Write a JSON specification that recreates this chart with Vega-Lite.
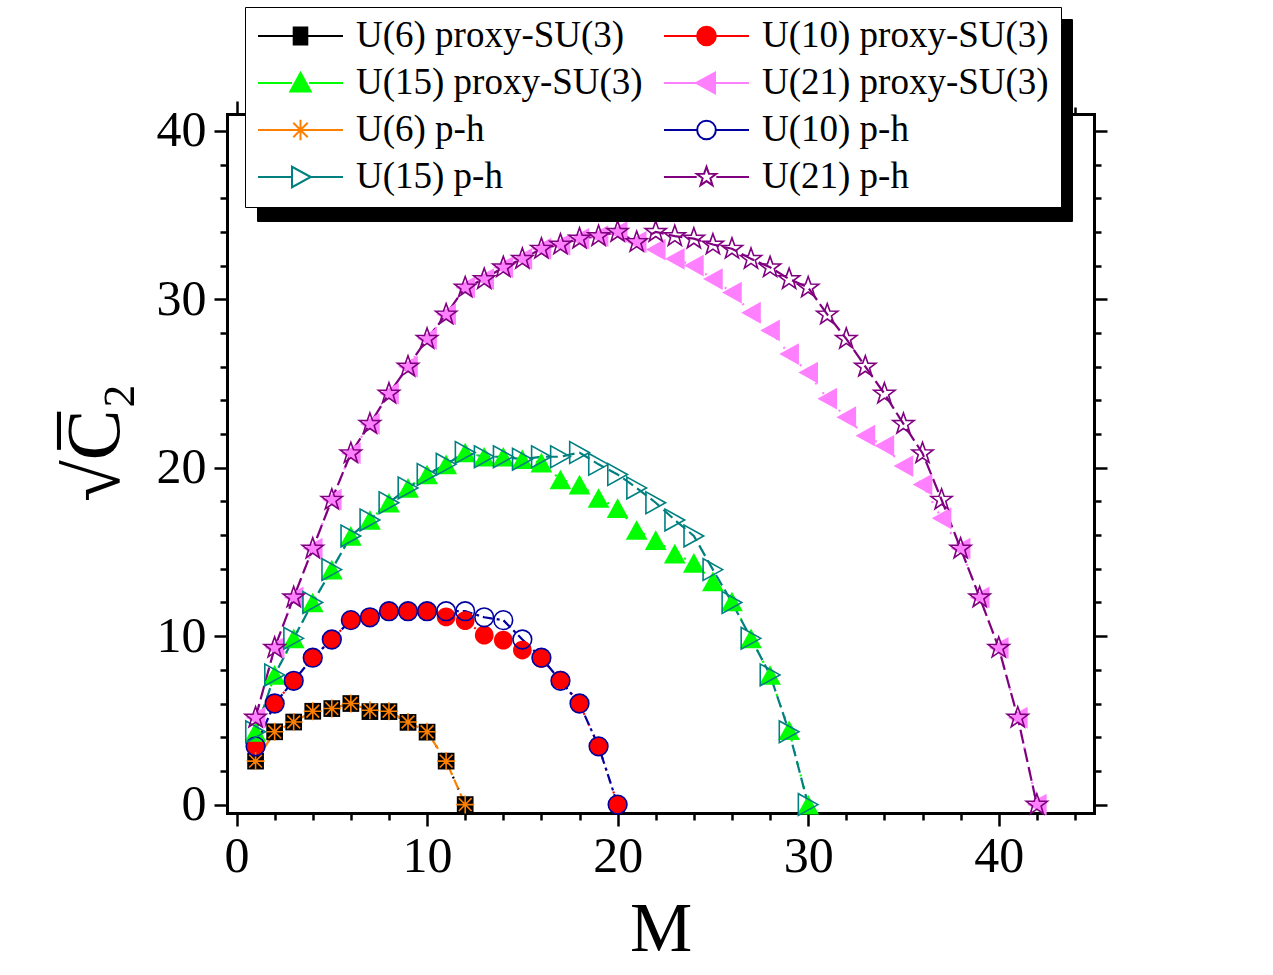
{
  "$schema": "https://vega.github.io/schema/vega-lite/v6.json",
  "width": 867,
  "height": 699,
  "autosize": "none",
  "padding": {"left": 227, "top": 114, "right": 179, "bottom": 162},
  "background": "white",
  "data": {
    "values": [
      {"s": "U(6) proxy-SU(3)", "M": 1, "v": 2.58}, {"s": "U(6) proxy-SU(3)", "M": 2, "v": 4.32}, {"s": "U(6) proxy-SU(3)", "M": 3, "v": 4.9}, {"s": "U(6) proxy-SU(3)", "M": 4, "v": 5.54}, {"s": "U(6) proxy-SU(3)", "M": 5, "v": 5.7}, {"s": "U(6) proxy-SU(3)", "M": 6, "v": 6.0}, {"s": "U(6) proxy-SU(3)", "M": 7, "v": 5.52}, {"s": "U(6) proxy-SU(3)", "M": 8, "v": 5.52}, {"s": "U(6) proxy-SU(3)", "M": 9, "v": 4.88}, {"s": "U(6) proxy-SU(3)", "M": 10, "v": 4.3}, {"s": "U(6) proxy-SU(3)", "M": 11, "v": 2.58}, {"s": "U(6) proxy-SU(3)", "M": 12, "v": 0},

      {"s": "U(10) proxy-SU(3)", "M": 1, "v": 3.46}, {"s": "U(10) proxy-SU(3)", "M": 2, "v": 6.0}, {"s": "U(10) proxy-SU(3)", "M": 3, "v": 7.35}, {"s": "U(10) proxy-SU(3)", "M": 4, "v": 8.72}, {"s": "U(10) proxy-SU(3)", "M": 5, "v": 9.8}, {"s": "U(10) proxy-SU(3)", "M": 6, "v": 10.95}, {"s": "U(10) proxy-SU(3)", "M": 7, "v": 11.12}, {"s": "U(10) proxy-SU(3)", "M": 8, "v": 11.48}, {"s": "U(10) proxy-SU(3)", "M": 9, "v": 11.48}, {"s": "U(10) proxy-SU(3)", "M": 10, "v": 11.48}, {"s": "U(10) proxy-SU(3)", "M": 11, "v": 11.14}, {"s": "U(10) proxy-SU(3)", "M": 12, "v": 10.92}, {"s": "U(10) proxy-SU(3)", "M": 13, "v": 10.06}, {"s": "U(10) proxy-SU(3)", "M": 14, "v": 9.76}, {"s": "U(10) proxy-SU(3)", "M": 15, "v": 9.17}, {"s": "U(10) proxy-SU(3)", "M": 16, "v": 8.68}, {"s": "U(10) proxy-SU(3)", "M": 17, "v": 7.39}, {"s": "U(10) proxy-SU(3)", "M": 18, "v": 6.0}, {"s": "U(10) proxy-SU(3)", "M": 19, "v": 3.47}, {"s": "U(10) proxy-SU(3)", "M": 20, "v": 0},

      {"s": "U(15) proxy-SU(3)", "M": 1, "v": 4.32}, {"s": "U(15) proxy-SU(3)", "M": 2, "v": 7.7}, {"s": "U(15) proxy-SU(3)", "M": 3, "v": 9.87}, {"s": "U(15) proxy-SU(3)", "M": 4, "v": 12.0}, {"s": "U(15) proxy-SU(3)", "M": 5, "v": 13.95}, {"s": "U(15) proxy-SU(3)", "M": 6, "v": 15.95}, {"s": "U(15) proxy-SU(3)", "M": 7, "v": 16.9}, {"s": "U(15) proxy-SU(3)", "M": 8, "v": 17.92}, {"s": "U(15) proxy-SU(3)", "M": 9, "v": 18.8}, {"s": "U(15) proxy-SU(3)", "M": 10, "v": 19.6}, {"s": "U(15) proxy-SU(3)", "M": 11, "v": 20.2}, {"s": "U(15) proxy-SU(3)", "M": 12, "v": 20.9}, {"s": "U(15) proxy-SU(3)", "M": 13, "v": 20.65}, {"s": "U(15) proxy-SU(3)", "M": 14, "v": 20.65}, {"s": "U(15) proxy-SU(3)", "M": 15, "v": 20.5}, {"s": "U(15) proxy-SU(3)", "M": 16, "v": 20.3}, {"s": "U(15) proxy-SU(3)", "M": 17, "v": 19.3}, {"s": "U(15) proxy-SU(3)", "M": 18, "v": 19.0}, {"s": "U(15) proxy-SU(3)", "M": 19, "v": 18.2}, {"s": "U(15) proxy-SU(3)", "M": 20, "v": 17.6}, {"s": "U(15) proxy-SU(3)", "M": 21, "v": 16.3}, {"s": "U(15) proxy-SU(3)", "M": 22, "v": 15.7}, {"s": "U(15) proxy-SU(3)", "M": 23, "v": 14.9}, {"s": "U(15) proxy-SU(3)", "M": 24, "v": 14.35}, {"s": "U(15) proxy-SU(3)", "M": 25, "v": 13.25}, {"s": "U(15) proxy-SU(3)", "M": 26, "v": 12.06}, {"s": "U(15) proxy-SU(3)", "M": 27, "v": 9.87}, {"s": "U(15) proxy-SU(3)", "M": 28, "v": 7.69}, {"s": "U(15) proxy-SU(3)", "M": 29, "v": 4.41}, {"s": "U(15) proxy-SU(3)", "M": 30, "v": 0},

      {"s": "U(21) proxy-SU(3)", "M": 1, "v": 5.16}, {"s": "U(21) proxy-SU(3)", "M": 2, "v": 9.31}, {"s": "U(21) proxy-SU(3)", "M": 3, "v": 12.3}, {"s": "U(21) proxy-SU(3)", "M": 4, "v": 15.2}, {"s": "U(21) proxy-SU(3)", "M": 5, "v": 18.1}, {"s": "U(21) proxy-SU(3)", "M": 6, "v": 20.86}, {"s": "U(21) proxy-SU(3)", "M": 7, "v": 22.6}, {"s": "U(21) proxy-SU(3)", "M": 8, "v": 24.4}, {"s": "U(21) proxy-SU(3)", "M": 9, "v": 26.0}, {"s": "U(21) proxy-SU(3)", "M": 10, "v": 27.65}, {"s": "U(21) proxy-SU(3)", "M": 11, "v": 29.1}, {"s": "U(21) proxy-SU(3)", "M": 12, "v": 30.7}, {"s": "U(21) proxy-SU(3)", "M": 13, "v": 31.2}, {"s": "U(21) proxy-SU(3)", "M": 14, "v": 31.9}, {"s": "U(21) proxy-SU(3)", "M": 15, "v": 32.4}, {"s": "U(21) proxy-SU(3)", "M": 16, "v": 33.0}, {"s": "U(21) proxy-SU(3)", "M": 17, "v": 33.25}, {"s": "U(21) proxy-SU(3)", "M": 18, "v": 33.6}, {"s": "U(21) proxy-SU(3)", "M": 19, "v": 33.75}, {"s": "U(21) proxy-SU(3)", "M": 20, "v": 34.0}, {"s": "U(21) proxy-SU(3)", "M": 21, "v": 33.4}, {"s": "U(21) proxy-SU(3)", "M": 22, "v": 32.95}, {"s": "U(21) proxy-SU(3)", "M": 23, "v": 32.4}, {"s": "U(21) proxy-SU(3)", "M": 24, "v": 32.0}, {"s": "U(21) proxy-SU(3)", "M": 25, "v": 31.2}, {"s": "U(21) proxy-SU(3)", "M": 26, "v": 30.4}, {"s": "U(21) proxy-SU(3)", "M": 27, "v": 29.2}, {"s": "U(21) proxy-SU(3)", "M": 28, "v": 28.15}, {"s": "U(21) proxy-SU(3)", "M": 29, "v": 26.75}, {"s": "U(21) proxy-SU(3)", "M": 30, "v": 25.65}, {"s": "U(21) proxy-SU(3)", "M": 31, "v": 24.1}, {"s": "U(21) proxy-SU(3)", "M": 32, "v": 23.0}, {"s": "U(21) proxy-SU(3)", "M": 33, "v": 21.9}, {"s": "U(21) proxy-SU(3)", "M": 34, "v": 21.3}, {"s": "U(21) proxy-SU(3)", "M": 35, "v": 20.1}, {"s": "U(21) proxy-SU(3)", "M": 36, "v": 19.0}, {"s": "U(21) proxy-SU(3)", "M": 37, "v": 17.0}, {"s": "U(21) proxy-SU(3)", "M": 38, "v": 15.2}, {"s": "U(21) proxy-SU(3)", "M": 39, "v": 12.3}, {"s": "U(21) proxy-SU(3)", "M": 40, "v": 9.31}, {"s": "U(21) proxy-SU(3)", "M": 41, "v": 5.16}, {"s": "U(21) proxy-SU(3)", "M": 42, "v": 0},

      {"s": "U(6) p-h", "M": 1, "v": 2.58}, {"s": "U(6) p-h", "M": 2, "v": 4.32}, {"s": "U(6) p-h", "M": 3, "v": 4.9}, {"s": "U(6) p-h", "M": 4, "v": 5.54}, {"s": "U(6) p-h", "M": 5, "v": 5.7}, {"s": "U(6) p-h", "M": 6, "v": 6.0}, {"s": "U(6) p-h", "M": 7, "v": 5.6}, {"s": "U(6) p-h", "M": 8, "v": 5.54}, {"s": "U(6) p-h", "M": 9, "v": 4.9}, {"s": "U(6) p-h", "M": 10, "v": 4.32}, {"s": "U(6) p-h", "M": 11, "v": 2.58}, {"s": "U(6) p-h", "M": 12, "v": 0},

      {"s": "U(10) p-h", "M": 1, "v": 3.46}, {"s": "U(10) p-h", "M": 2, "v": 6.0}, {"s": "U(10) p-h", "M": 3, "v": 7.35}, {"s": "U(10) p-h", "M": 4, "v": 8.72}, {"s": "U(10) p-h", "M": 5, "v": 9.8}, {"s": "U(10) p-h", "M": 6, "v": 10.95}, {"s": "U(10) p-h", "M": 7, "v": 11.12}, {"s": "U(10) p-h", "M": 8, "v": 11.48}, {"s": "U(10) p-h", "M": 9, "v": 11.48}, {"s": "U(10) p-h", "M": 10, "v": 11.48}, {"s": "U(10) p-h", "M": 11, "v": 11.48}, {"s": "U(10) p-h", "M": 12, "v": 11.48}, {"s": "U(10) p-h", "M": 13, "v": 11.12}, {"s": "U(10) p-h", "M": 14, "v": 10.95}, {"s": "U(10) p-h", "M": 15, "v": 9.8}, {"s": "U(10) p-h", "M": 16, "v": 8.72}, {"s": "U(10) p-h", "M": 17, "v": 7.35}, {"s": "U(10) p-h", "M": 18, "v": 6.0}, {"s": "U(10) p-h", "M": 19, "v": 3.46}, {"s": "U(10) p-h", "M": 20, "v": 0},

      {"s": "U(15) p-h", "M": 1, "v": 4.32}, {"s": "U(15) p-h", "M": 2, "v": 7.7}, {"s": "U(15) p-h", "M": 3, "v": 9.87}, {"s": "U(15) p-h", "M": 4, "v": 12.0}, {"s": "U(15) p-h", "M": 5, "v": 13.95}, {"s": "U(15) p-h", "M": 6, "v": 15.95}, {"s": "U(15) p-h", "M": 7, "v": 16.9}, {"s": "U(15) p-h", "M": 8, "v": 17.92}, {"s": "U(15) p-h", "M": 9, "v": 18.8}, {"s": "U(15) p-h", "M": 10, "v": 19.6}, {"s": "U(15) p-h", "M": 11, "v": 20.2}, {"s": "U(15) p-h", "M": 12, "v": 20.9}, {"s": "U(15) p-h", "M": 13, "v": 20.65}, {"s": "U(15) p-h", "M": 14, "v": 20.65}, {"s": "U(15) p-h", "M": 15, "v": 20.5}, {"s": "U(15) p-h", "M": 16, "v": 20.65}, {"s": "U(15) p-h", "M": 17, "v": 20.65}, {"s": "U(15) p-h", "M": 18, "v": 20.9}, {"s": "U(15) p-h", "M": 19, "v": 20.2}, {"s": "U(15) p-h", "M": 20, "v": 19.6}, {"s": "U(15) p-h", "M": 21, "v": 18.8}, {"s": "U(15) p-h", "M": 22, "v": 17.92}, {"s": "U(15) p-h", "M": 23, "v": 16.9}, {"s": "U(15) p-h", "M": 24, "v": 15.95}, {"s": "U(15) p-h", "M": 25, "v": 13.95}, {"s": "U(15) p-h", "M": 26, "v": 12.0}, {"s": "U(15) p-h", "M": 27, "v": 9.87}, {"s": "U(15) p-h", "M": 28, "v": 7.7}, {"s": "U(15) p-h", "M": 29, "v": 4.32}, {"s": "U(15) p-h", "M": 30, "v": 0},

      {"s": "U(21) p-h", "M": 1, "v": 5.16}, {"s": "U(21) p-h", "M": 2, "v": 9.31}, {"s": "U(21) p-h", "M": 3, "v": 12.3}, {"s": "U(21) p-h", "M": 4, "v": 15.2}, {"s": "U(21) p-h", "M": 5, "v": 18.1}, {"s": "U(21) p-h", "M": 6, "v": 20.86}, {"s": "U(21) p-h", "M": 7, "v": 22.6}, {"s": "U(21) p-h", "M": 8, "v": 24.4}, {"s": "U(21) p-h", "M": 9, "v": 26.0}, {"s": "U(21) p-h", "M": 10, "v": 27.65}, {"s": "U(21) p-h", "M": 11, "v": 29.1}, {"s": "U(21) p-h", "M": 12, "v": 30.7}, {"s": "U(21) p-h", "M": 13, "v": 31.2}, {"s": "U(21) p-h", "M": 14, "v": 31.9}, {"s": "U(21) p-h", "M": 15, "v": 32.4}, {"s": "U(21) p-h", "M": 16, "v": 33.0}, {"s": "U(21) p-h", "M": 17, "v": 33.25}, {"s": "U(21) p-h", "M": 18, "v": 33.6}, {"s": "U(21) p-h", "M": 19, "v": 33.75}, {"s": "U(21) p-h", "M": 20, "v": 34.0}, {"s": "U(21) p-h", "M": 21, "v": 33.4}, {"s": "U(21) p-h", "M": 22, "v": 34.0}, {"s": "U(21) p-h", "M": 23, "v": 33.75}, {"s": "U(21) p-h", "M": 24, "v": 33.6}, {"s": "U(21) p-h", "M": 25, "v": 33.25}, {"s": "U(21) p-h", "M": 26, "v": 33.0}, {"s": "U(21) p-h", "M": 27, "v": 32.4}, {"s": "U(21) p-h", "M": 28, "v": 31.9}, {"s": "U(21) p-h", "M": 29, "v": 31.2}, {"s": "U(21) p-h", "M": 30, "v": 30.7}, {"s": "U(21) p-h", "M": 31, "v": 29.1}, {"s": "U(21) p-h", "M": 32, "v": 27.65}, {"s": "U(21) p-h", "M": 33, "v": 26.0}, {"s": "U(21) p-h", "M": 34, "v": 24.4}, {"s": "U(21) p-h", "M": 35, "v": 22.6}, {"s": "U(21) p-h", "M": 36, "v": 20.86}, {"s": "U(21) p-h", "M": 37, "v": 18.1}, {"s": "U(21) p-h", "M": 38, "v": 15.2}, {"s": "U(21) p-h", "M": 39, "v": 12.3}, {"s": "U(21) p-h", "M": 40, "v": 9.31}, {"s": "U(21) p-h", "M": 41, "v": 5.16}, {"s": "U(21) p-h", "M": 42, "v": 0}
    ]
  },
  "resolve": {
    "scale": {"shape": "independent", "stroke": "independent", "fill": "independent", "strokeDash": "independent"},
    "axis": {"x": "independent", "y": "independent"}
  },
  "layer": [
    {
      "mark": {"type": "line", "strokeWidth": 2.2},
      "encoding": {
        "x": {
          "field": "M", "type": "quantitative",
          "scale": {"domain": [-0.5, 45], "nice": false, "zero": false},
          "axis": {
            "orient": "bottom",
            "values": [0, 2, 4, 6, 8, 10, 12, 14, 16, 18, 20, 22, 24, 26, 28, 30, 32, 34, 36, 38, 40, 42, 44],
            "labelExpr": "datum.value % 10 === 0 ? datum.label : ''",
            "tickSize": {"condition": {"test": "datum.value % 10 === 0", "value": 13}, "value": 7},
            "labelFontSize": 50, "labelPadding": 5,
            "title": "M", "titleFontSize": 70, "titlePadding": 14
          }
        },
        "y": {
          "field": "v", "type": "quantitative",
          "scale": {"domain": [-0.5, 41], "nice": false, "zero": false},
          "axis": {
            "orient": "left",
            "values": [0, 2, 4, 6, 8, 10, 12, 14, 16, 18, 20, 22, 24, 26, 28, 30, 32, 34, 36, 38, 40],
            "labelExpr": "datum.value % 10 === 0 ? datum.label : ''",
            "tickSize": {"condition": {"test": "datum.value % 10 === 0", "value": 13}, "value": 7},
            "labelFontSize": 50, "labelPadding": 8,
            "title": "\u221aC\u0305\u2082", "titleFontSize": 76, "titlePadding": 22, "titleY": 328
          }
        },
        "stroke": {
          "field": "s", "type": "nominal", "legend": null,
          "scale": {
            "domain": ["U(6) proxy-SU(3)", "U(10) proxy-SU(3)", "U(15) proxy-SU(3)", "U(21) proxy-SU(3)", "U(6) p-h", "U(10) p-h", "U(15) p-h", "U(21) p-h"],
            "range": ["#000000", "#ff0000", "#00ff00", "#ff80ff", "#ff8000", "#0000a0", "#008080", "#800080"]
          }
        },
        "strokeDash": {
          "field": "s", "type": "nominal", "legend": null,
          "scale": {
            "domain": ["U(6) proxy-SU(3)", "U(10) proxy-SU(3)", "U(15) proxy-SU(3)", "U(21) proxy-SU(3)", "U(6) p-h", "U(10) p-h", "U(15) p-h", "U(21) p-h"],
            "range": [[2, 10], [2, 10], [2, 10], [2, 10], [10, 5], [10, 4, 3, 4], [12, 5], [14, 5]]
          }
        }
      }
    },
    {
      "mark": {"type": "point", "filled": true, "opacity": 1, "strokeWidth": 1.6, "size": 560},
      "encoding": {
        "x": {"field": "M", "type": "quantitative", "scale": {"domain": [-0.5, 45], "nice": false, "zero": false}, "axis": null},
        "y": {"field": "v", "type": "quantitative", "scale": {"domain": [-0.5, 41], "nice": false, "zero": false}, "axis": null},
        "shape": {
          "field": "s", "type": "nominal", "legend": null,
          "scale": {
            "domain": ["U(6) proxy-SU(3)", "U(10) proxy-SU(3)", "U(15) proxy-SU(3)", "U(21) proxy-SU(3)", "U(6) p-h", "U(10) p-h", "U(15) p-h", "U(21) p-h"],
            "range": [
              "M-0.706,-0.706H0.706V0.706H-0.706Z",
              "M-0.79,0A0.79,0.79,0,1,0,0.79,0A0.79,0.79,0,1,0,-0.79,0Z",
              "M0,-0.83L0.92,0.83L-0.92,0.83Z",
              "M-0.83,0L0.83,-0.92L0.83,0.92Z",
              "M-0.76,0H0.76M0,-0.76V0.76M-0.54,-0.54L0.54,0.54M-0.54,0.54L0.54,-0.54",
              "M-0.79,0A0.79,0.79,0,1,0,0.79,0A0.79,0.79,0,1,0,-0.79,0Z",
              "M0.83,0L-0.83,-0.92L-0.83,0.92Z",
              "M0,-0.92L0.222,-0.29L0.895,-0.278L0.358,0.128L0.553,0.77L0,0.388L-0.553,0.77L-0.358,0.128L-0.895,-0.278L-0.222,-0.29Z"
            ]
          }
        },
        "fill": {
          "field": "s", "type": "nominal", "legend": null,
          "scale": {
            "domain": ["U(6) proxy-SU(3)", "U(10) proxy-SU(3)", "U(15) proxy-SU(3)", "U(21) proxy-SU(3)", "U(6) p-h", "U(10) p-h", "U(15) p-h", "U(21) p-h"],
            "range": ["#000000", "#ff0000", "#00ff00", "#ff80ff", "transparent", "transparent", "transparent", "transparent"]
          }
        },
        "stroke": {
          "field": "s", "type": "nominal", "legend": null,
          "scale": {
            "domain": ["U(6) proxy-SU(3)", "U(10) proxy-SU(3)", "U(15) proxy-SU(3)", "U(21) proxy-SU(3)", "U(6) p-h", "U(10) p-h", "U(15) p-h", "U(21) p-h"],
            "range": ["transparent", "transparent", "transparent", "transparent", "#ff8000", "#0000a0", "#008080", "#800080"]
          }
        }
      }
    },
    {
      "transform": [{"filter": "false"}],
      "mark": {"type": "point", "filled": true, "opacity": 1, "strokeWidth": 2, "color": "black"},
      "encoding": {
        "x": {
          "field": "M", "type": "quantitative",
          "scale": {"domain": [-0.5, 45], "nice": false, "zero": false},
          "axis": {
            "orient": "top", "labels": false, "title": null,
            "values": [0, 2, 4, 6, 8, 10, 12, 14, 16, 18, 20, 22, 24, 26, 28, 30, 32, 34, 36, 38, 40, 42, 44],
            "tickSize": {"condition": {"test": "datum.value % 10 === 0", "value": 13}, "value": 7}
          }
        },
        "y": {
          "field": "v", "type": "quantitative",
          "scale": {"domain": [-0.5, 41], "nice": false, "zero": false},
          "axis": {
            "orient": "right", "labels": false, "title": null,
            "values": [0, 2, 4, 6, 8, 10, 12, 14, 16, 18, 20, 22, 24, 26, 28, 30, 32, 34, 36, 38, 40],
            "tickSize": {"condition": {"test": "datum.value % 10 === 0", "value": 13}, "value": 7}
          }
        },
        "shape": {
          "field": "s", "type": "nominal",
          "legend": {"title": null, "zindex": 2},
          "scale": {
            "domain": ["U(6) proxy-SU(3)", "U(15) proxy-SU(3)", "U(6) p-h", "U(15) p-h", "U(10) proxy-SU(3)", "U(21) proxy-SU(3)", "U(10) p-h", "U(21) p-h"],
            "range": [
              "M-1,0H-0.18M0.18,0H1M-0.16,-0.2H0.16V0.2H-0.16Z",
              "M-1,0H-0.2M0.2,0H1M0,-0.24L0.24,0.2L-0.24,0.2Z",
              "M-1,0H1M0,-0.24V0.24M-0.17,-0.17L0.17,0.17M-0.17,0.17L0.17,-0.17",
              "M-1,0H-0.2M0.24,0H1M0.24,0L-0.2,-0.24L-0.2,0.24Z",
              "M-1,0H-0.22M0.22,0H1M-0.22,0A0.22,0.22,0,1,0,0.22,0A0.22,0.22,0,1,0,-0.22,0Z",
              "M-1,0H-0.24M0.2,0H1M-0.24,0L0.2,-0.24L0.2,0.24Z",
              "M-1,0H-0.22M0.22,0H1M-0.22,0A0.22,0.22,0,1,0,0.22,0A0.22,0.22,0,1,0,-0.22,0Z",
              "M-1,0H-0.23M0.23,0H1M0,-0.24L0.056,-0.078L0.228,-0.074L0.091,0.03L0.141,0.194L0,0.096L-0.141,0.194L-0.091,0.03L-0.228,-0.074L-0.056,-0.078Z"
            ]
          }
        },
        "stroke": {
          "field": "s", "type": "nominal",
          "legend": {"title": null, "zindex": 2},
          "scale": {
            "domain": ["U(6) proxy-SU(3)", "U(15) proxy-SU(3)", "U(6) p-h", "U(15) p-h", "U(10) proxy-SU(3)", "U(21) proxy-SU(3)", "U(10) p-h", "U(21) p-h"],
            "range": ["#000000", "#00ff00", "#ff8000", "#008080", "#ff0000", "#ff80ff", "#0000a0", "#800080"]
          }
        },
        "fill": {
          "field": "s", "type": "nominal",
          "legend": {"title": null, "zindex": 2},
          "scale": {
            "domain": ["U(6) proxy-SU(3)", "U(15) proxy-SU(3)", "U(6) p-h", "U(15) p-h", "U(10) proxy-SU(3)", "U(21) proxy-SU(3)", "U(10) p-h", "U(21) p-h"],
            "range": ["#000000", "#00ff00", "transparent", "transparent", "#ff0000", "#ff80ff", "transparent", "transparent"]
          }
        },
        "strokeDash": {
          "field": "s2", "type": "nominal",
          "legend": {
            "title": null, "zindex": 1,
            "legendX": 30, "legendY": -95,
            "padding": 0, "fillColor": null, "strokeColor": null,
            "symbolType": "M-1,-0.2479H1V0.2479H-1Z",
            "symbolSize": 664225, "symbolStrokeWidth": 0,
            "symbolFillColor": "black", "symbolOpacity": 1,
            "clipHeight": 202, "labelOffset": 0,
            "labelExpr": "''"
          },
          "scale": {"domain": ["shadow"], "range": [[1, 0]]}
        }
      }
    }
  ],
  "config": {
    "view": {"stroke": null},
    "font": "Liberation Serif",
    "axis": {
      "grid": false,
      "domainColor": "black", "domainWidth": 3, "domainCap": "square",
      "tickColor": "black", "tickWidth": 2.5,
      "labelColor": "black", "labelFont": "Liberation Serif", "labelFlush": false, "labelOverlap": false,
      "titleColor": "black", "titleFont": "Liberation Serif", "titleFontWeight": "normal"
    },
    "legend": {
      "orient": "none",
      "legendX": 18, "legendY": -107,
      "columns": 2,
      "columnPadding": 20,
      "rowPadding": 10,
      "gridAlign": "all",
      "padding": 12,
      "fillColor": "white",
      "strokeColor": "black",
      "symbolSize": 7225,
      "symbolStrokeWidth": 2,
      "symbolOffset": 0,
      "labelOffset": 12,
      "labelFont": "Liberation Serif",
      "labelFontSize": 37,
      "labelColor": "black",
      "labelLimit": 0,
      "clipHeight": 34
    }
  }
}
